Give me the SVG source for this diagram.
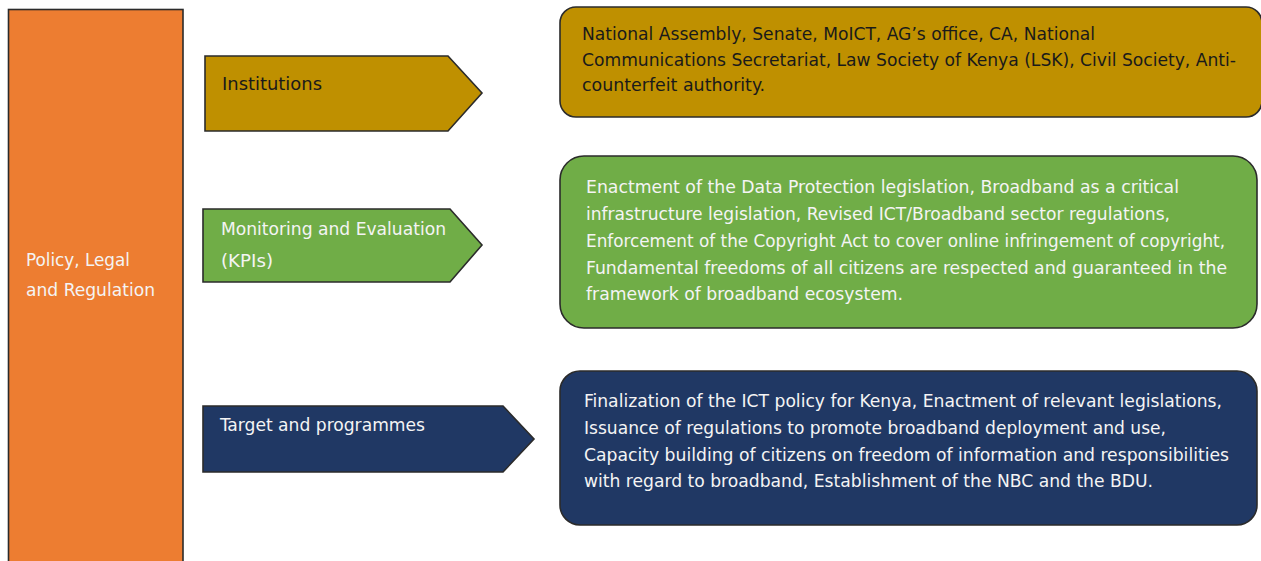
<svg xmlns="http://www.w3.org/2000/svg" width="1261" height="561" viewBox="0 0 1261 561">
<style>
.shape{stroke:#2b2b2b;stroke-width:1.6}
.t{font-family:"Liberation Sans Narrow","DejaVu Sans Condensed","Liberation Sans",sans-serif;font-size:17.5px}
.w{fill:#f4f4f4}
.k{fill:#1a1a1a}
</style>
<rect width="1261" height="561" fill="#ffffff"/>
<g id="policy">
<rect class="shape" x="8.5" y="9.5" width="174.5" height="560" fill="#ED7D31"/>
<text class="t w" x="26" y="266" textLength="104" lengthAdjust="spacingAndGlyphs">Policy, Legal</text>
<text class="t w" x="26" y="296" textLength="129" lengthAdjust="spacingAndGlyphs">and Regulation</text>
</g>
<g id="connectors"></g>
<g id="institutions">
<polygon class="shape" points="205,56 448,56 482,93 448,131 205,131" fill="#BF9000"/>
<text class="t k" x="222" y="90" textLength="100" lengthAdjust="spacingAndGlyphs">Institutions</text>
</g>
<g id="monitoring">
<polygon class="shape" points="203,209 450,209 482,245 450,282 203,282" fill="#70AD47"/>
<text class="t w" x="221" y="235" textLength="225" lengthAdjust="spacingAndGlyphs">Monitoring and Evaluation</text>
<text class="t w" x="221" y="267" textLength="52" lengthAdjust="spacingAndGlyphs">(KPIs)</text>
</g>
<g id="targets">
<polygon class="shape" points="203,406 503,406 534,439 503,472 203,472" fill="#203864"/>
<text class="t w" x="220" y="431" textLength="205" lengthAdjust="spacingAndGlyphs">Target and programmes</text>
</g>
<g id="institutions-detail">
<rect class="shape" x="560" y="7" width="702" height="110" rx="16" fill="#BF9000"/>
<text class="t k" x="582" y="40" textLength="513" lengthAdjust="spacingAndGlyphs">National Assembly, Senate, MoICT, AG’s office, CA, National</text>
<text class="t k" x="582" y="66" textLength="654" lengthAdjust="spacingAndGlyphs">Communications Secretariat, Law Society of Kenya (LSK), Civil Society, Anti-</text>
<text class="t k" x="582" y="91" textLength="183" lengthAdjust="spacingAndGlyphs">counterfeit authority.</text>
</g>
<g id="monitoring-detail">
<rect class="shape" x="560" y="156" width="697" height="172" rx="24" fill="#70AD47"/>
<text class="t w" x="586" y="193" textLength="593" lengthAdjust="spacingAndGlyphs">Enactment of the Data Protection legislation, Broadband as a critical</text>
<text class="t w" x="586" y="220" textLength="584" lengthAdjust="spacingAndGlyphs">infrastructure legislation, Revised ICT/Broadband sector regulations,</text>
<text class="t w" x="586" y="247" textLength="639" lengthAdjust="spacingAndGlyphs">Enforcement of the Copyright Act to cover online infringement of copyright,</text>
<text class="t w" x="586" y="274" textLength="641" lengthAdjust="spacingAndGlyphs">Fundamental freedoms of all citizens are respected and guaranteed in the</text>
<text class="t w" x="586" y="300" textLength="317" lengthAdjust="spacingAndGlyphs">framework of broadband ecosystem.</text>
</g>
<g id="targets-detail">
<rect class="shape" x="560" y="371" width="697" height="154" rx="20" fill="#203864"/>
<text class="t w" x="584" y="407" textLength="638" lengthAdjust="spacingAndGlyphs">Finalization of the ICT policy for Kenya, Enactment of relevant legislations,</text>
<text class="t w" x="584" y="434" textLength="582" lengthAdjust="spacingAndGlyphs">Issuance of regulations to promote broadband deployment and use,</text>
<text class="t w" x="584" y="461" textLength="645" lengthAdjust="spacingAndGlyphs">Capacity building of citizens on freedom of information and responsibilities</text>
<text class="t w" x="584" y="487" textLength="569" lengthAdjust="spacingAndGlyphs">with regard to broadband, Establishment of the NBC and the BDU.</text>
</g>
</svg>
